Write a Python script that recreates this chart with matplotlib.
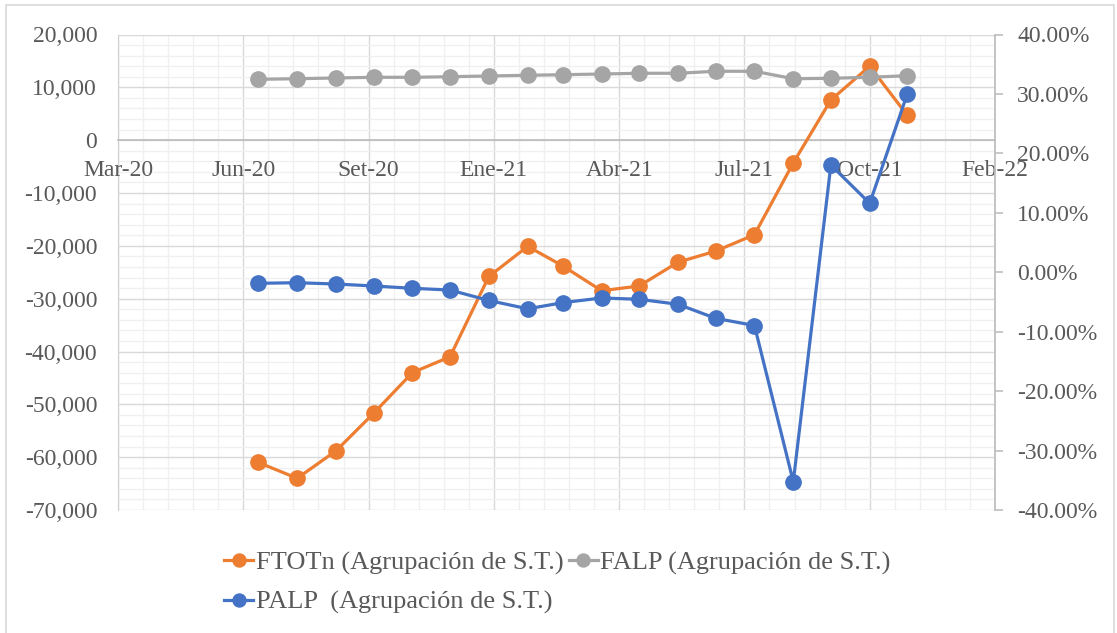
import numpy as np
import matplotlib
matplotlib.use("Agg")
import matplotlib.pyplot as plt
import matplotlib.dates as mdates
from matplotlib.ticker import FixedLocator, FuncFormatter, MultipleLocator
from matplotlib.patches import Rectangle

plt.rcParams['font.family'] = ['Liberation Serif', 'DejaVu Serif']

# ---------------- data ----------------
dates = ["2020-06-30", "2020-07-31", "2020-08-31", "2020-09-30", "2020-10-31",
         "2020-11-30", "2020-12-31", "2021-01-31", "2021-02-28", "2021-03-31",
         "2021-04-30", "2021-05-31", "2021-06-30", "2021-07-31", "2021-08-31",
         "2021-09-30", "2021-10-31", "2021-11-30"]
ftotn = [-61000, -64000, -58800, -51700, -44000, -41000, -25800, -20100, -23800,
         -28500, -27600, -23100, -21000, -17900, -4300, 7600, 14000, 4700]
falp = [11520, 11630, 11770, 11900, 11900, 12010, 12150, 12280, 12390,
        12520, 12660, 12660, 13040, 13040, 11630, 11710, 11900, 12200]
palp = [-0.0186, -0.0176, -0.0198, -0.0231, -0.0270, -0.0299, -0.0475, -0.0615, -0.0512,
        -0.0433, -0.0455, -0.0539, -0.0775, -0.0896, -0.3524, 0.1804, 0.1160, 0.2999]
x_start = "2020-03-10"
x_tick_labels = ["Mar-20", "Jun-20", "Set-20", "Ene-21", "Abr-21", "Jul-21", "Oct-21", "Feb-22"]
labels = ["FTOTn (Agrupación de S.T.)", "FALP (Agrupación de S.T.)", "PALP  (Agrupación de S.T.)"]

# ---------------- style ----------------
C_OR = "#ED7D31"
C_GR = "#A5A5A5"
C_BL = "#4472C4"
TXT = "#595959"
W, H = 1117, 633

fig = plt.figure(figsize=(W / 100, H / 100), dpi=100)
top_px, bot_px, left_px, right_px = 34.5, 510, 118, 995
ax = fig.add_axes([left_px / W, 1 - bot_px / H, (right_px - left_px) / W, (bot_px - top_px) / H])
ax2 = ax.twinx()

x = mdates.datestr2num(dates)
x0 = mdates.datestr2num(x_start)
ax.set_xlim(x0, x0 + 700)
ax.xaxis.set_major_locator(FixedLocator(x0 + 100 * np.arange(len(x_tick_labels))))
ax.set_xticklabels(x_tick_labels)
ax.xaxis.set_minor_locator(FixedLocator(x0 + 20 * np.arange(36)))

ymin, ymax = -70000, 20000
ax.set_ylim(ymin, ymax)
ax.yaxis.set_major_locator(MultipleLocator(10000))
ax.yaxis.set_minor_locator(MultipleLocator(2000))
ax.yaxis.set_major_formatter(FuncFormatter(lambda v, p: f"{v:,.0f}"))

ax2.set_ylim(-0.40, 0.40)
ax2.yaxis.set_major_locator(MultipleLocator(0.10))
ax2.yaxis.set_major_formatter(FuncFormatter(lambda v, p: f"{v * 100:.2f}%"))

ax.set_axisbelow(True)
ax.grid(which='major', color='#D9D9D9', lw=1.0)
ax.grid(which='minor', color='#F0F0F0', lw=1.0)

for s in ['top', 'right']:
    ax.spines[s].set_visible(False)
ax.spines['left'].set_color('#D0D0D0')
ax.spines['bottom'].set_position(('data', 0))
ax.spines['bottom'].set_color('#BFBFBF')
ax.spines['bottom'].set_linewidth(1.3)
for s in ['top', 'left']:
    ax2.spines[s].set_visible(False)
ax2.spines['right'].set_color('#BFBFBF')
ax2.spines['right'].set_linewidth(1.3)

# x tick labels are drawn by the twin axes so that they sit above the gridlines
ax2.spines['bottom'].set_position(('axes', (0 - ymin) / (ymax - ymin)))
ax2.spines['bottom'].set_visible(False)
ax2.xaxis.set_visible(True)
ax.tick_params(axis='x', which='both', length=0, labelbottom=False)
ax2.tick_params(axis='x', which='both', length=0, pad=14, labelsize=17, labelcolor=TXT,
                bottom=True, labelbottom=True)

ax.tick_params(axis='y', which='both', length=0, pad=15, labelsize=17, labelcolor=TXT)
ax2.tick_params(axis='y', which='major', length=6, width=1.2, color='#BFBFBF', direction='out',
                pad=10, labelsize=17, labelcolor=TXT)

lw, ms = 2.3, 11
l1, = ax.plot(x, ftotn, color=C_OR, lw=lw, marker='o', ms=ms, label=labels[0], zorder=3)
l2, = ax.plot(x, falp, color=C_GR, lw=lw, marker='o', ms=ms, label=labels[1], zorder=4)
l3, = ax2.plot(x, palp, color=C_BL, lw=lw, marker='o', ms=ms, label=labels[2], zorder=3)

fig.legend([l1, l3, l2], [labels[0], labels[2], labels[1]], ncol=2, loc='center',
           bbox_to_anchor=(0.4991, 0.0798), frameon=False, fontsize=19,
           handlelength=1.1, handletextpad=0.1, columnspacing=0.2, labelspacing=0.6,
           labelcolor=TXT, markerscale=0.85)

fig.add_artist(Rectangle((6 / W, -0.05), 1108 / W, 1.05 - 5 / H, transform=fig.transFigure,
                         fill=False, edgecolor='#D9D9D9', lw=1.2))

fig.savefig("out.png", dpi=100)
